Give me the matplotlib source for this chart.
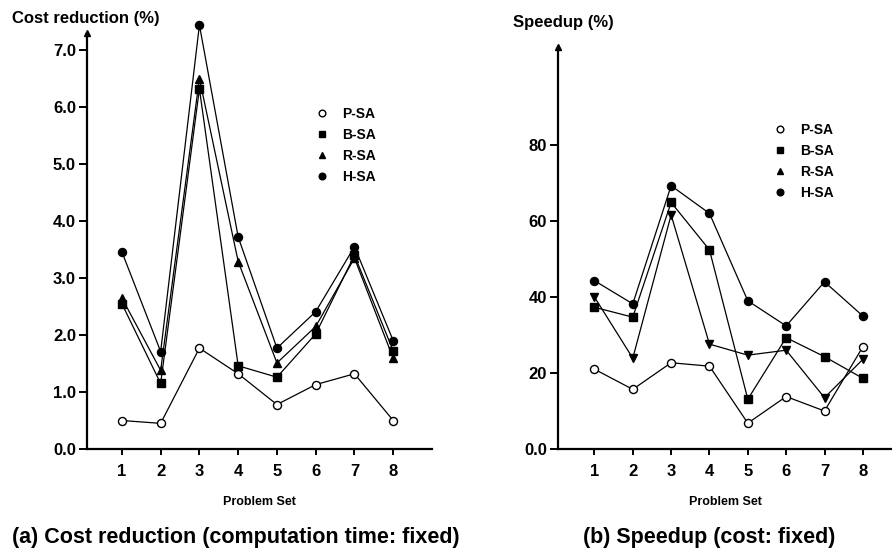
import matplotlib
matplotlib.use("Agg")
import matplotlib.pyplot as plt
from matplotlib.lines import Line2D

plt.rcParams['font.family'] = ['Liberation Sans', 'DejaVu Sans']
plt.rcParams['font.weight'] = 'bold'

problem_sets = [1, 2, 3, 4, 5, 6, 7, 8]
series_names = ["P-SA", "B-SA", "R-SA", "H-SA"]

# (a) Cost reduction (%)
cost_p = [0.50, 0.45, 1.77, 1.32, 0.78, 1.13, 1.32, 0.50]
cost_b = [2.55, 1.15, 6.32, 1.46, 1.26, 2.02, 3.40, 1.72]
cost_r = [2.65, 1.38, 6.50, 3.29, 1.51, 2.15, 3.35, 1.59]
cost_h = [3.46, 1.71, 7.44, 3.72, 1.77, 2.41, 3.55, 1.90]

# (b) Speedup (%)
speed_p = [21.0, 15.7, 22.7, 21.8, 6.8, 13.8, 10.0, 26.9]
speed_b = [37.3, 34.7, 64.9, 52.4, 13.1, 29.3, 24.3, 18.6]
speed_r = [40.0, 23.9, 61.6, 27.6, 24.7, 26.0, 13.5, 23.6]
speed_h = [44.3, 38.2, 69.3, 62.0, 39.0, 32.4, 44.0, 35.0]

cost_ticks = [0, 1, 2, 3, 4, 5, 6, 7]
cost_ticklabels = ["0.0", "1.0", "2.0", "3.0", "4.0", "5.0", "6.0", "7.0"]
speed_ticks = [0, 20, 40, 60, 80]
speed_ticklabels = ["0.0", "20", "40", "60", "80"]

W, H = 892, 556
fig = plt.figure(figsize=(W / 100, H / 100), dpi=100)

def px_axes(x0, x1, y0, y1):
    return fig.add_axes([x0 / W, 1 - y0 / H, (x1 - x0) / W, (y0 - y1) / H])

axA = px_axes(87, 432, 449, 33)
axB = px_axes(558, 892, 449, 47)

def style(ax, xlim, ylim, ticks, labels):
    ax.set_xlim(*xlim)
    ax.set_ylim(*ylim)
    for s in ("top", "right"):
        ax.spines[s].set_visible(False)
    for s in ("left", "bottom"):
        ax.spines[s].set_linewidth(1.6)
    ax.set_xticks(problem_sets)
    ax.set_xticklabels([str(v) for v in problem_sets], fontsize=12, fontweight='bold')
    ax.set_yticks(ticks)
    ax.set_yticklabels(labels, fontsize=12, fontweight='bold')
    ax.tick_params(axis='y', length=6, width=1.4, direction='out', pad=2)
    ax.tick_params(axis='x', length=4, width=1.4, direction='out', pad=7)
    ax.plot([0], [1], marker='^', color='black', ms=5, transform=ax.transAxes,
            clip_on=False)
    ax.set_xlabel("Problem Set", fontsize=9, fontweight='bold', labelpad=12)

lw = 0.9
ms = 5.8
style(axA, (0.1, 9.0), (0, 7.3), cost_ticks, cost_ticklabels)
axA.plot(problem_sets, cost_p, '-o', color='black', mfc='white', lw=lw, ms=ms, clip_on=False)
axA.plot(problem_sets, cost_b, '-s', color='black', lw=lw, ms=ms, clip_on=False)
axA.plot(problem_sets, cost_r, '-^', color='black', lw=lw, ms=ms, clip_on=False)
axA.plot(problem_sets, cost_h, '-o', color='black', lw=lw, ms=ms, clip_on=False)

style(axB, (0.05, 8.76), (0, 105.8), speed_ticks, speed_ticklabels)
axB.plot(problem_sets, speed_p, '-o', color='black', mfc='white', lw=lw, ms=ms, clip_on=False)
axB.plot(problem_sets, speed_b, '-s', color='black', lw=lw, ms=ms, clip_on=False)
axB.plot(problem_sets, speed_r, '-v', color='black', lw=lw, ms=ms, clip_on=False)
axB.plot(problem_sets, speed_h, '-o', color='black', lw=lw, ms=ms, clip_on=False)

handles = [
    Line2D([], [], ls='none', marker='o', color='black', mfc='white', ms=4.8),
    Line2D([], [], ls='none', marker='s', color='black', ms=4.8),
    Line2D([], [], ls='none', marker='^', color='black', ms=4.8),
    Line2D([], [], ls='none', marker='o', color='black', ms=4.8),
]
for ax, (lx, ly) in ((axA, (315, 107)), (axB, (773, 123))):
    ax.legend(handles, series_names, frameon=False, loc='upper left',
              bbox_to_anchor=(lx / W, 1 - ly / H), bbox_transform=fig.transFigure,
              prop={'size': 10, 'weight': 'bold'}, handlelength=1.0,
              handletextpad=0.93, labelspacing=0.5, borderpad=0, borderaxespad=0)

fig.text(12 / W, 1 - 18 / H, "Cost reduction (%)", fontsize=12, fontweight='bold',
         va='center', ha='left')
fig.text(513 / W, 1 - 22 / H, "Speedup (%)", fontsize=12, fontweight='bold',
         va='center', ha='left')
fig.text(12 / W, 1 - 537 / H, "(a) Cost reduction (computation time: fixed)",
         fontsize=15.5, fontweight='bold', va='center', ha='left')
fig.text(583 / W, 1 - 537 / H, "(b) Speedup (cost: fixed)",
         fontsize=15.5, fontweight='bold', va='center', ha='left')

fig.savefig("out.png", dpi=100)
